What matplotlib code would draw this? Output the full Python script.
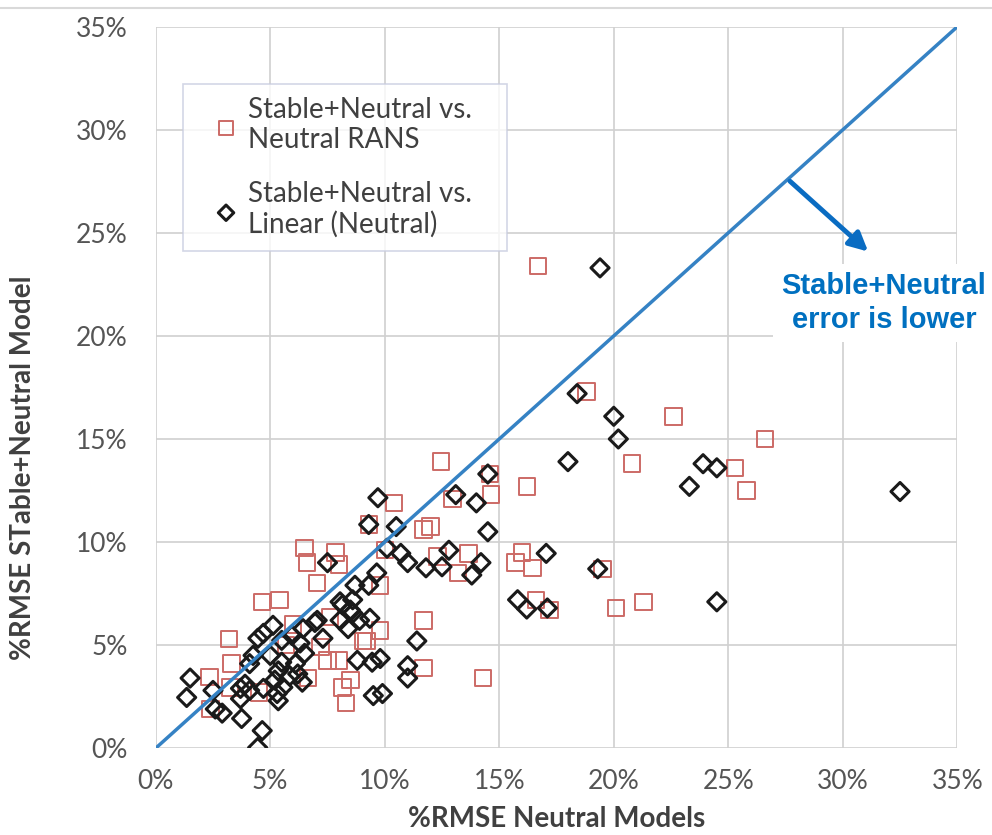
import matplotlib.pyplot as plt
from matplotlib.ticker import FuncFormatter, MultipleLocator

# %RMSE values (percent)
rans_x = [16.7, 18.8, 22.6, 26.6, 25.3, 25.8, 20.8, 16.2, 14.65, 14.6, 12.45, 12.95,
          10.4, 11.7, 12.0, 9.3, 12.3, 13.65, 13.2, 16.0, 15.7, 16.45, 19.5, 16.6,
          17.2, 20.1, 21.3, 11.7, 9.8, 9.2, 11.7, 14.3, 9.8, 7.6, 6.5, 6.6, 7.85,
          8.0, 7.05, 4.65, 5.4, 3.2, 3.3, 2.35, 3.25, 2.4, 7.5, 8.0, 8.15, 8.5,
          8.3, 6.65, 7.2, 9.05, 4.5, 5.7, 6.0, 10.0]
rans_y = [23.4, 17.3, 16.1, 15.0, 13.6, 12.5, 13.8, 12.7, 12.3, 13.3, 13.9, 12.1,
          11.9, 10.6, 10.75, 10.85, 9.3, 9.45, 8.5, 9.5, 9.0, 8.75, 8.7, 7.2,
          6.7, 6.8, 7.1, 6.2, 5.7, 5.2, 3.9, 3.4, 7.9, 6.35, 9.7, 9.0, 9.5,
          8.9, 8.0, 7.1, 7.2, 5.3, 4.1, 3.45, 2.95, 1.9, 4.25, 4.25, 2.95, 3.3,
          2.2, 3.4, 4.9, 5.2, 2.7, 5.0, 6.0, 9.6]

lin_x = [19.4, 18.4, 20.0, 20.2, 18.0, 14.5, 13.1, 14.0, 14.5, 14.2, 17.05, 19.3,
         23.9, 24.5, 23.3, 32.5, 24.5, 15.8, 16.2, 17.1, 9.7, 9.3, 10.5, 10.1,
         10.7, 11.0, 11.8, 12.5, 12.8, 13.8, 9.65, 9.3, 8.7, 8.6, 8.05, 8.5,
         8.9, 9.35, 8.05, 7.05, 7.5, 11.4, 11.0, 11.0, 9.8, 9.5, 9.9, 8.8, 9.45,
         5.12, 4.46, 4.7, 5.5, 5.95, 6.43, 6.95, 7.3, 8.4, 8.15, 8.6, 4.25, 4.1,
         5.0, 5.5, 6.1, 6.5, 6.3, 6.2, 6.4, 5.85, 5.35, 5.2, 4.7, 5.35, 3.9, 3.7,
         3.7, 3.75, 2.9, 4.65, 4.45, 1.5, 1.35, 2.5, 2.6, 5.55, 5.3, 4.1]
lin_y = [23.3, 17.2, 16.1, 15.0, 13.9, 13.3, 12.3, 11.9, 10.5, 9.0, 9.45, 8.7,
         13.8, 13.6, 12.7, 12.45, 7.1, 7.2, 6.75, 6.8, 12.15, 10.85, 10.75, 9.7,
         9.45, 9.0, 8.75, 8.8, 9.6, 8.4, 8.5, 7.9, 7.9, 7.2, 7.1, 6.7,
         6.2, 6.3, 6.2, 6.2, 9.0, 5.2, 4.0, 3.4, 4.35, 2.55, 2.65, 4.26, 4.17,
         5.96, 5.33, 5.57, 5.23, 5.47, 5.8, 6.1, 5.33, 5.8, 6.95, 6.55, 4.5, 4.1,
         4.5, 4.17, 4.1, 4.6, 5.1, 3.6, 3.2, 3.5, 3.75, 3.3, 2.9, 2.3, 3.1, 2.9,
         2.4, 1.44, 1.7, 0.85, 0.03, 3.4, 2.46, 2.8, 1.9, 2.95, 2.65, 2.8]

diag = [0, 35]

fig = plt.figure(figsize=(9.92, 8.35), dpi=100)
ax = fig.add_axes([0.157, 0.104, 0.808, 0.864])

ax.scatter(rans_x, rans_y, marker='s', s=140, facecolors='none',
           edgecolors='#cc6a66', linewidths=1.4, zorder=3,
           label='Stable+Neutral vs.\nNeutral RANS')
ax.scatter(lin_x, lin_y, marker='D', s=85, facecolors='none',
           edgecolors='#1a1a1a', linewidths=2.2, zorder=4,
           label='Stable+Neutral vs.\nLinear (Neutral)')
ax.plot(diag, diag, color='#3582c4', lw=2.5, zorder=5)

ax.set_xlim(0, 35)
ax.set_ylim(0, 35)
pct = FuncFormatter(lambda v, p: f'{v:.0f}%')
for a in (ax.xaxis, ax.yaxis):
    a.set_major_locator(MultipleLocator(5))
    a.set_major_formatter(pct)
ax.grid(True, color='#d0d0d0', lw=1.2)
ax.set_axisbelow(True)
for s in ax.spines.values():
    s.set_visible(False)
ax.tick_params(length=0, labelsize=19, labelcolor='#555555')
ax.tick_params(axis='x', pad=15)
ax.tick_params(axis='y', pad=20)
for lab in ax.get_xticklabels() + ax.get_yticklabels():
    lab.set_family('Lato')

ax.set_xlabel('%RMSE Neutral Models', fontsize=20, fontweight='bold',
              color='#404040', family='Lato')
ax.set_ylabel('%RMSE STable+Neutral Model', fontsize=20, fontweight='bold',
              color='#404040', family='Lato')
ax.xaxis.set_label_coords(0.5, -0.08)
ax.yaxis.set_label_coords(-0.15, 0.388)

leg = ax.legend(loc='upper left', bbox_to_anchor=(0.034, 0.92, 0.404, 0.0),
                mode='expand', frameon=True, fancybox=False,
                edgecolor='#c8cce0', prop={'family': 'Lato', 'size': 20},
                markerscale=0.85, handletextpad=-0.3, labelspacing=1.0,
                borderpad=0.45, handlelength=2.2, borderaxespad=0)
for t in leg.get_texts():
    t.set_color('#404040')
leg.get_frame().set_linewidth(1.2)

# arrow + note below the 1:1 line
ax.annotate('', xy=(31.2, 24.0), xytext=(27.6, 27.6),
            arrowprops=dict(arrowstyle='-|>', color='#0a6cc2', lw=3.5,
                            mutation_scale=28), zorder=6)
ax.text(31.8, 21.6, 'Stable+Neutral\nerror is lower', ha='center', va='center',
        fontsize=21, fontweight='bold', color='#0070c0', family='Liberation Sans',
        linespacing=1.25, clip_on=False, zorder=7,
        bbox=dict(facecolor='white', edgecolor='none', pad=6))

fig.add_artist(plt.Line2D([0, 1], [0.991, 0.991], color='#d9d9d9', lw=1.5))

plt.savefig('out.png', dpi=100)
